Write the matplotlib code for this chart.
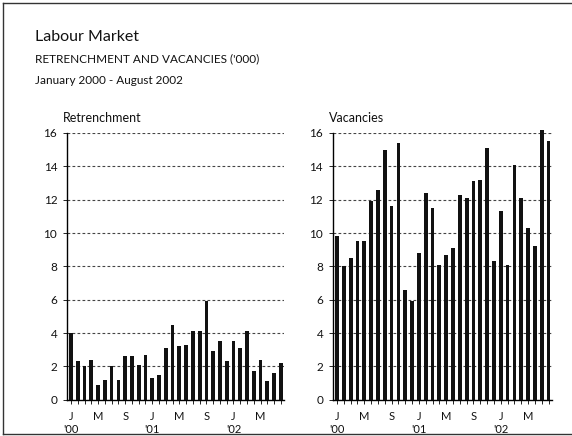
import matplotlib
matplotlib.use("Agg")
import matplotlib.pyplot as plt
from matplotlib.lines import Line2D

plt.rcParams['font.family'] = ['Lato', 'DejaVu Sans']

months = list(range(32))  # Jan 2000 .. Aug 2002
retrenchment = [4.0, 2.3, 2.0, 2.4, 0.9, 1.2, 2.0, 1.2, 2.6, 2.6, 2.1, 2.7,
                1.3, 1.5, 3.1, 4.5, 3.2, 3.3, 4.1, 4.1, 5.9, 2.9, 3.5, 2.3,
                3.5, 3.1, 4.1, 1.7, 2.4, 1.1, 1.6, 2.2]
vacancies = [9.8, 8.0, 8.5, 9.5, 9.5, 11.9, 12.6, 15.0, 11.6, 15.4, 6.6, 5.9,
             8.8, 12.4, 11.5, 8.1, 8.7, 9.1, 12.3, 12.1, 13.1, 13.2, 15.1, 8.3,
             11.3, 8.1, 14.1, 12.1, 10.3, 9.2, 16.2, 15.5]
tick_pos = [0, 4, 8, 12, 16, 20, 24, 28]
tick_labels = ["J\n'00", "M", "S", "J\n'01", "M", "S", "J\n'02", "M"]
y_ticks = [0, 2, 4, 6, 8, 10, 12, 14, 16]

fig = plt.figure(figsize=(5.72, 4.36), dpi=100)
fig.patch.set_facecolor('white')

# outer frame
fig.add_artist(Line2D([0.005, 1.0], [0.993, 0.993], color='#333', lw=1.0, transform=fig.transFigure))
fig.add_artist(Line2D([0.005, 0.005], [0.993, 0.004], color='#333', lw=1.0, transform=fig.transFigure))
fig.add_artist(Line2D([0.005, 1.0], [0.004, 0.004], color='#333', lw=1.0, transform=fig.transFigure))

fig.text(0.061, 0.915, "Labour Market", fontsize=11.5, color='#111', ha='left', va='center')
fig.text(0.061, 0.866, "RETRENCHMENT AND VACANCIES ('000)", fontsize=8.5, color='#111', ha='left', va='center')
fig.text(0.061, 0.815, "January 2000 - August 2002", fontsize=8.5, color='#111', ha='left', va='center')

def panel(rect, values, title):
    ax = fig.add_axes(rect)
    ax.bar(months, values, width=0.55, color='#111', zorder=3, clip_on=False)
    ax.set_xlim(-0.6, 31.5)
    ax.set_ylim(0, 16)
    ax.set_yticks(y_ticks)
    ax.set_yticklabels([str(v) for v in y_ticks], fontsize=8.5, color='#111')
    ax.set_xticks(tick_pos)
    ax.set_xticklabels(tick_labels, fontsize=8, color='#111', linespacing=1.2,
                       multialignment='center')
    ax.set_xticks(months, minor=True)
    ax.tick_params(axis='x', which='major', length=3, width=0.6, pad=5)
    ax.tick_params(axis='x', which='minor', length=3, width=0.6)
    ax.tick_params(axis='y', length=3, width=0.6, pad=4)
    for s in ['top', 'right']:
        ax.spines[s].set_visible(False)
    ax.spines['left'].set_linestyle((0, (1, 1)))
    ax.spines['left'].set_linewidth(1.0)
    ax.spines['bottom'].set_linewidth(1.0)
    ax.yaxis.grid(True, linestyle=(0, (2.5, 2)), color='#444', lw=0.8, zorder=0)
    ax.set_axisbelow(True)
    ax.text(-0.02, 1.035, title, transform=ax.transAxes, fontsize=9, color='#111',
            ha='left', va='bottom')
    return ax

panel([0.117, 0.083, 0.38, 0.612], retrenchment, "Retrenchment")
panel([0.582, 0.083, 0.383, 0.612], vacancies, "Vacancies")

fig.savefig("out.png", dpi=100, facecolor='white')
